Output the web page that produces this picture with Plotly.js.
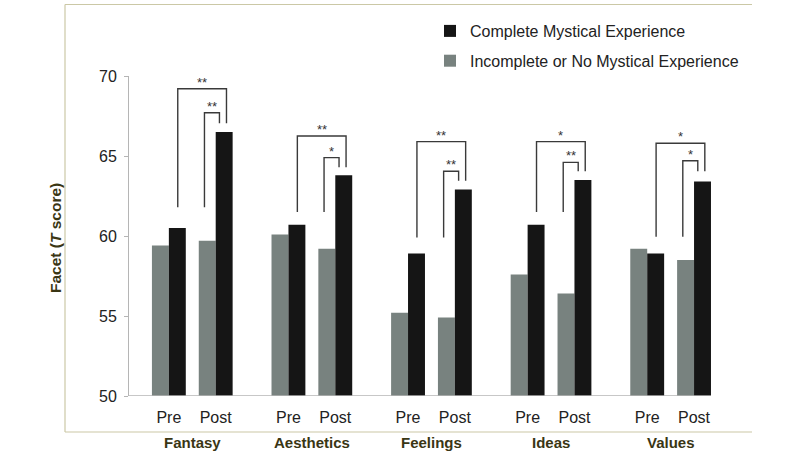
<!DOCTYPE html>
<html>
<head>
<meta charset="utf-8">
<script src="https://cdn.plot.ly/plotly-3.0.1.min.js"></script>
<style>html,body{margin:0;padding:0;background:#fff;}#chart{width:800px;height:460px;}</style>
</head>
<body>
<div id="chart"></div>
<script>
// ---- data ----
const facets = ["Fantasy", "Aesthetics", "Feelings", "Ideas", "Values"];
const phases = ["Pre", "Post"];
// Incomplete or No Mystical Experience (gray): [Pre, Post] per facet
const incompletePre  = [59.4, 60.1, 55.2, 57.6, 59.2];
const incompletePost = [59.7, 59.2, 54.9, 56.4, 58.5];
// Complete Mystical Experience (black)
const completePre  = [60.5, 60.7, 58.9, 60.7, 58.9];
const completePost = [66.5, 63.8, 62.9, 63.5, 63.4];
// significance brackets (T-score levels)
const outerStars = ["**", "**", "**", "*", "*"];
const innerStars = ["**", "*", "**", "**", "*"];
const outerTop   = [69.2, 66.25, 65.9, 65.9, 65.8];
const innerTop   = [67.7, 64.9, 64.05, 64.6, 64.7];
const legBottom  = [61.8, 61.5, 59.9, 61.5, 59.95];
const rightBottom = [67.05, 64.3, 63.45, 64.05, 64.05];

// ---- layout helpers ----
const groupStep = 2.553;           // distance between facet groups (Pre->Post = 1)
const xPos = [];
const xText = [];
facets.forEach((f, i) => { phases.forEach((p, j) => { xPos.push(i * groupStep + j); xText.push(p); }); });
const interleave = (a, b) => a.flatMap((v, i) => [v, b[i]]);

const GRAY = "#78827f", BLACK = "#151515", OLIVE = "#3a3614", FRAME = "#cbc8a6";

const traces = [
  { type: "bar", name: "Incomplete or No Mystical Experience", x: xPos, y: interleave(incompletePre, incompletePost),
    marker: { color: GRAY, line: { width: 0 } }, legendgroup: "inc", legendrank: 2, hoverinfo: "y" },
  { type: "bar", name: "Complete Mystical Experience", x: xPos, y: interleave(completePre, completePost),
    marker: { color: BLACK, line: { width: 0 } }, legendgroup: "comp", legendrank: 1, hoverinfo: "y" }
];

// plot-area pixel geometry -> paper conversion
const L = 129, R = 711, T = 76, B = 396;
const px = v => (v - L) / (R - L);
const py = v => (B - v) / (B - T);

const shapes = [];
const annotations = [];
const lineStyle = { color: "#3a3a3a", width: 1.4 };
const starFont = { family: "Liberation Sans, Arial, sans-serif", size: 13, color: "#333" };
facets.forEach((f, i) => {
  const pre = i * groupStep, post = pre + 1;
  const oL = pre + 0.19, oR = post + 0.23, iL = post - 0.24, iR = post + 0.08;
  shapes.push({ type: "path", xref: "x", yref: "y", line: lineStyle,
    path: `M${oL},${legBottom[i]} L${oL},${outerTop[i]} L${oR},${outerTop[i]} L${oR},${rightBottom[i]}` });
  shapes.push({ type: "path", xref: "x", yref: "y", line: lineStyle,
    path: `M${iL},${legBottom[i]} L${iL},${innerTop[i]} L${iR},${innerTop[i]} L${iR},${rightBottom[i]}` });
  annotations.push({ xref: "x", yref: "y", x: (oL + oR) / 2, y: outerTop[i], text: outerStars[i], showarrow: false,
    yanchor: "bottom", yshift: -3, font: starFont });
  annotations.push({ xref: "x", yref: "y", x: (iL + iR) / 2, y: innerTop[i], text: innerStars[i], showarrow: false,
    yanchor: "bottom", yshift: -3, font: starFont });
  // facet names
  annotations.push({ xref: "x", yref: "paper", x: pre + 0.5, y: py(442), yanchor: "middle", text: f, showarrow: false,
    font: { family: "Liberation Sans, Arial, sans-serif", size: 15, color: OLIVE, weight: "bold" } });
});
// y-axis title
annotations.push({ xref: "paper", yref: "paper", x: px(55), y: py(238), xanchor: "center", yanchor: "middle",
  text: "Facet (<i>T</i> score)", textangle: -90, showarrow: false,
  font: { family: "Liberation Sans, Arial, sans-serif", size: 15.5, color: OLIVE, weight: "bold" } });

// outer frame (left, top, bottom)
const frame = { color: FRAME, width: 1.2 };
shapes.push({ type: "line", xref: "paper", yref: "paper", x0: px(65), x1: px(65), y0: py(432), y1: py(4.5), line: frame });
shapes.push({ type: "line", xref: "paper", yref: "paper", x0: px(65), x1: px(752), y0: py(4.5), y1: py(4.5), line: frame });
shapes.push({ type: "line", xref: "paper", yref: "paper", x0: px(65), x1: px(752), y0: py(432), y1: py(432), line: frame });

const layout = {
  width: 800, height: 460,
  margin: { l: L, r: 800 - R, t: T, b: 460 - B, pad: 0 },
  paper_bgcolor: "#fff", plot_bgcolor: "#fff",
  barmode: "group", bargap: 0.277, bargroupgap: 0,
  font: { family: "Liberation Sans, Arial, sans-serif", color: "#222" },
  xaxis: {
    range: [-0.851, 4 * groupStep + 1 + 0.362], tickmode: "array", tickvals: xPos, ticktext: xText,
    showgrid: false, zeroline: false, showline: false, ticks: "",
    tickfont: { size: 16, color: "#222" }, ticklabelstandoff: 10, fixedrange: true
  },
  yaxis: {
    range: [50, 70], tickvals: [50, 55, 60, 65, 70], showgrid: false, zeroline: false,
    showline: true, linecolor: "#b5b5b5", linewidth: 1, ticks: "outside", ticklen: 4, tickcolor: "#b5b5b5",
    tickfont: { size: 16, color: "#222" }, ticklabelstandoff: 4, fixedrange: true
  },
  showlegend: true,
  legend: {
    x: px(430), y: py(14), xanchor: "left", yanchor: "top", traceorder: "grouped", tracegroupgap: 6,
    font: { size: 16, color: "#222" }, bgcolor: "rgba(0,0,0,0)", borderwidth: 0
  },
  shapes: shapes.concat([{ type: "line", xref: "paper", yref: "y", x0: 0, x1: 1, y0: 50, y1: 50,
    line: { color: "#b5b5b5", width: 1.5 } }]),
  annotations: annotations
};

Plotly.newPlot("chart", traces, layout, { displayModeBar: false, staticPlot: true });
</script>
</body>
</html>
